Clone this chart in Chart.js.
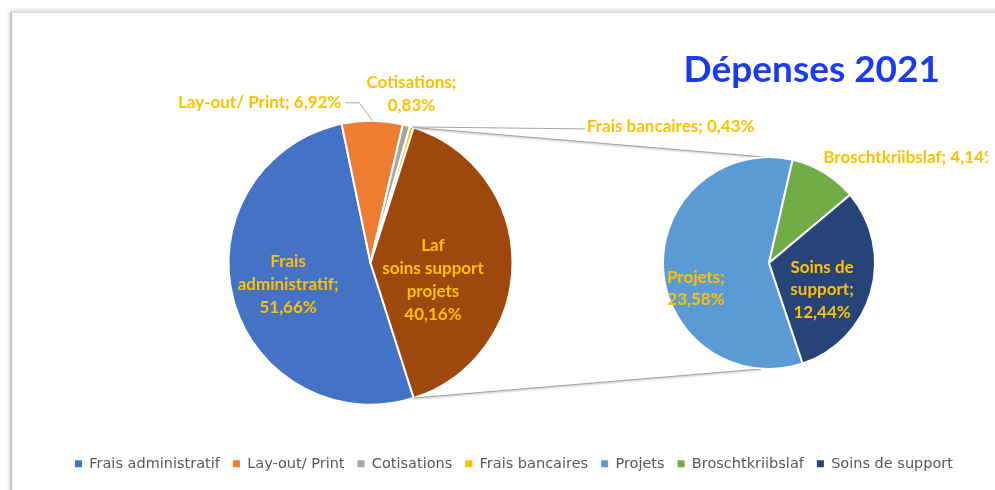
<!DOCTYPE html>
<html>
<head>
<meta charset="utf-8">
<script src="https://cdn.jsdelivr.net/npm/chart.js@4.4.0/dist/chart.umd.min.js"></script>
<style>
  html, body { margin: 0; padding: 0; background: #fff; }
  body { width: 995px; height: 490px; position: relative; overflow: hidden; }
  #frame { position: absolute; left: 10px; top: 12px; width: 990px; height: 490px;
           border-left: 2px solid #c6c6c6; border-top: 1px solid #dadada;
           box-shadow: -1px -2px 4px rgba(0,0,0,0.15); }
  #clip { position: absolute; left: 0; top: 0; width: 988px; height: 490px; overflow: hidden; }
  canvas { position: absolute; }
</style>
</head>
<body>
<div id="frame"></div>
<div id="clip">
  <canvas id="mainCanvas"></canvas>
  <canvas id="subCanvas"></canvas>
</div>
<script>
// data
const mainNames = ['Frais administratif', 'Lay-out/ Print', 'Cotisations', 'Frais bancaires'];
const mainValues = [51.66, 6.92, 0.83, 0.43];
const subNames = ['Projets', 'Broschtkriibslaf', 'Soins de support'];
const subValues = [23.58, 4.14, 12.44];
const otherName = 'Laf\nsoins support\nprojets';
const titleText = 'Dépenses 2021';

const mainColors = ['#4472C4', '#ED7D31', '#A5A5A5', '#FFC000'];
const subColors = ['#5B9BD5', '#70AD47', '#264478'];
const otherColor = '#9E480E';
const labelColor = '#FFC000';

const otherValue = subValues.reduce((a, b) => a + b, 0);
const total = mainValues.reduce((a, b) => a + b, 0) + otherValue;

// canvas placement on the page
const mainPos = {left: -225, top: 40, width: 1191, height: 441};
const subPos = {left: 598, top: 40, width: 392, height: 329};

function place(id, p) {
  const c = document.getElementById(id);
  c.width = p.width; c.height = p.height;
  c.style.left = p.left + 'px'; c.style.top = p.top + 'px';
  return c;
}

function fmt(v) {
  return v.toFixed(2).replace('.', ',') + '%';
}

function wrapWords(text, max) {
  const out = [];
  text.split(' ').forEach(w => {
    const last = out[out.length - 1];
    if (last !== undefined && (last + ' ' + w).length <= max) out[out.length - 1] = last + ' ' + w;
    else out.push(w);
  });
  return out;
}

function labelLines(name, value, s) {
  if (s.inline) return [name + '; ' + fmt(value)];
  const head = name.includes('\n') ? name.split('\n') : wrapWords(name + ';', s.wrap || 99);
  return head.concat([fmt(value)]);
}

const sliceLabels = {
  id: 'sliceLabels',
  afterDatasetsDraw(chart, args, opts) {
    const ctx = chart.ctx;
    const ds = chart.data.datasets[0];
    ctx.save();
    ctx.font = 'bold ' + opts.size + 'px Lato';
    ctx.textBaseline = 'middle';
    chart.getDatasetMeta(0).data.forEach((arc, i) => {
      const s = opts.specs[i];
      const mid = (arc.startAngle + arc.endAngle) / 2;
      const ax = arc.x + Math.cos(mid) * arc.outerRadius * s.k;
      const ay = arc.y + Math.sin(mid) * arc.outerRadius * s.k;
      if (s.leader) {
        ctx.strokeStyle = '#a6a6a6';
        ctx.lineWidth = 1;
        ctx.beginPath();
        s.leader.forEach(([dx, dy], j) => j ? ctx.lineTo(ax + dx, ay + dy) : ctx.moveTo(ax + dx, ay + dy));
        ctx.stroke();
      }
      const lines = labelLines(chart.data.labels[i], ds.data[i], s);
      ctx.fillStyle = opts.color;
      ctx.textAlign = s.align || 'center';
      const x = ax + (s.dx || 0);
      const y0 = ay + (s.dy || 0) - (lines.length - 1) * opts.lineHeight / 2;
      lines.forEach((t, j) => ctx.fillText(t, x, y0 + j * opts.lineHeight));
    });
    ctx.restore();
  }
};

let subChart;

// lines from the combined slice to the second pie
const connectors = {
  id: 'connectors',
  afterDatasetsDraw(chart) {
    const arc = chart.getDatasetMeta(0).data[mainNames.length];
    const sub = subChart.getDatasetMeta(0).data[0];
    const sx = sub.x + subPos.left - mainPos.left;
    const sy = sub.y + subPos.top - mainPos.top;
    const sr = sub.outerRadius;
    const ctx = chart.ctx;
    ctx.save();
    ctx.strokeStyle = '#a0a0a0';
    ctx.lineWidth = 1;
    ctx.shadowColor = 'rgba(0,0,0,0.3)';
    ctx.shadowBlur = 2;
    ctx.shadowOffsetY = 1;
    ctx.beginPath();
    ctx.moveTo(arc.x + Math.cos(arc.startAngle) * arc.outerRadius, arc.y + Math.sin(arc.startAngle) * arc.outerRadius);
    ctx.lineTo(sx - 5, sy - sr);
    ctx.moveTo(arc.x + Math.cos(arc.endAngle) * arc.outerRadius, arc.y + Math.sin(arc.endAngle) * arc.outerRadius);
    ctx.lineTo(sx - 8, sy + sr);
    ctx.stroke();
    ctx.restore();
  }
};

Chart.defaults.font.family = 'Lato';

subChart = new Chart(place('subCanvas', subPos), {
  type: 'pie',
  data: {
    labels: subNames,
    datasets: [{
      data: subValues,
      backgroundColor: subColors,
      borderColor: '#fff',
      borderWidth: 2,
      radius: 106,
      rotation: 161.5
    }]
  },
  options: {
    responsive: false,
    animation: false,
    layout: {padding: {right: 50}},
    plugins: {
      legend: {display: false},
      tooltip: {enabled: false},
      title: {
        display: true,
        text: titleText,
        align: 'end',
        color: '#1a3cf0',
        font: {family: 'Lato', size: 37, weight: 'bold'},
        padding: {top: 8, bottom: 64.6}
      },
      sliceLabels: {
        size: 17, lineHeight: 22.5, color: labelColor,
        specs: [
          {k: 0.69, dy: 22},
          {k: 1, inline: true, align: 'left', dx: -1, dy: -15},
          {k: 0.52, dy: 12, wrap: 8}
        ]
      }
    }
  },
  plugins: [sliceLabels]
});

const legendNames = mainNames.concat(subNames);
const legendColors = mainColors.concat(subColors);

new Chart(place('mainCanvas', mainPos), {
  type: 'pie',
  data: {
    labels: mainNames.concat([otherName]),
    datasets: [{
      data: mainValues.concat([otherValue]),
      backgroundColor: mainColors.concat([otherColor]),
      borderColor: '#fff',
      borderWidth: 2,
      radius: 142,
      rotation: 90 + otherValue / total * 180
    }]
  },
  options: {
    responsive: false,
    animation: false,
    layout: {padding: {top: 42}},
    plugins: {
      tooltip: {enabled: false},
      legend: {
        position: 'bottom',
        align: 'end',
        onClick: null,
        labels: {
          boxWidth: 7,
          boxHeight: 7,
          padding: 13,
          color: '#595959',
          font: {family: 'DejaVu Sans', size: 14.5},
          generateLabels: () => legendNames.map((t, i) => ({
            text: t, fillStyle: legendColors[i], strokeStyle: legendColors[i],
            lineWidth: 0, hidden: false, index: i, fontColor: '#595959'
          }))
        }
      },
      sliceLabels: {
        size: 17, lineHeight: 23, color: labelColor,
        specs: [
          {k: 0.6, wrap: 8},
          {k: 1, inline: true, align: 'right', dx: -31, dy: -18, leader: [[0, 0], [-13, -18], [-27, -18]]},
          {k: 1, wrap: 20, dx: 5, dy: -31},
          {k: 1, inline: true, align: 'left', dx: 175, dy: 0, leader: [[0, 0], [173, 2]]},
          {k: 0.44, dy: 17}
        ]
      }
    }
  },
  plugins: [connectors, sliceLabels]
});
</script>
</body>
</html>
